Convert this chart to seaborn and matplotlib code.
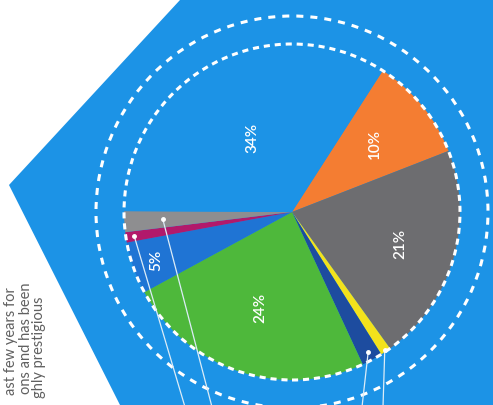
import matplotlib
matplotlib.use("Agg")
import matplotlib.pyplot as plt
import seaborn as sns
import numpy as np
from matplotlib.patches import Polygon, Circle

# ---- data ----
categories = ["Orange", "Dark grey", "Yellow", "Navy", "Green", "Blue", "Magenta", "Light grey", "Sky blue"]
shares = [10, 21, 1, 2, 24, 5, 1, 2, 34]
value_labels = ["10%", "21%", "", "", "24%", "5%", "", "", "34%"]
side_text = ["ast few years for", "ons and has been", "ghly prestigious"]

# ---- style ----
sns.set_theme(style="white")
plt.rcParams['font.family'] = ['Lato', 'DejaVu Sans']

slice_colors = sns.color_palette(["#F47D32", "#6D6D70", "#F3E21C", "#1D4C9F", "#4EB83B",
                                  "#1F74D4", "#B2196B", "#8E8E90", "#1C93E6"])
bg_blue = "#1C93E6"

W, H = 493, 405
fig = plt.figure(figsize=(W / 100, H / 100), dpi=100, facecolor="white")
ax = fig.add_axes([0, 0, 1, 1])

# blue backdrop polygon
ax.add_patch(Polygon([(180, H), (W, H), (W, 0), (120, 0), (9, H - 185)],
                     closed=True, fc=bg_blue, ec="none", zorder=0))

cx, cy, R = 292, H - 212, 168
wedges, _ = ax.pie(shares, colors=slice_colors, startangle=57.3, counterclock=False,
                   center=(cx, cy), radius=R, wedgeprops=dict(linewidth=0))
for w in wedges:
    w.set_zorder(1)

# dashed rings
ax.add_patch(Circle((cx, cy), R, fill=False, ec="white", lw=2.2,
                    ls=(0, (2.0, 1.6)), zorder=3))
ax.add_patch(Circle((cx, cy), 196, fill=False, ec="white", lw=2.2,
                    ls=(0, (2.3, 2.3)), zorder=3))

# value labels inside slices
label_frac = [0.64, 0.67, 0, 0, 0.60, 0.86, 0, 0, 0.50]
for w, lab, f in zip(wedges, value_labels, label_frac):
    if not lab:
        continue
    th = np.deg2rad((w.theta1 + w.theta2) / 2)
    ax.text(cx + f * R * np.cos(th), cy + f * R * np.sin(th), lab, rotation=90,
            ha="center", va="center", color="white", fontsize=11, fontweight="semibold",
            zorder=4)

# leader lines for the thin slices
leaders = {2: (0.99, 383), 3: (0.95, 362), 6: (0.95, 185), 7: (0.77, 212)}
for i, (f, xend) in leaders.items():
    w = wedges[i]
    th = np.deg2rad((w.theta1 + w.theta2) / 2)
    x0, y0 = cx + f * R * np.cos(th), cy + f * R * np.sin(th)
    ax.plot([x0, xend], [y0, -2], color="#dcecf7", lw=0.9, zorder=5)
    ax.plot([x0], [y0], "o", color="white", ms=2.5, zorder=6)

# cropped body text on the left
for xb, ytop, txt in zip([15, 30, 43], [287, 283, 297], side_text):
    ax.text(xb, H - ytop, txt, rotation=90, rotation_mode="anchor", ha="right",
            va="baseline", color="#606060", fontsize=10.5, zorder=2)

ax.set_xlim(0, W)
ax.set_ylim(0, H)
ax.set_aspect("equal")
ax.axis("off")

fig.savefig("out.png", dpi=100, facecolor="white")
